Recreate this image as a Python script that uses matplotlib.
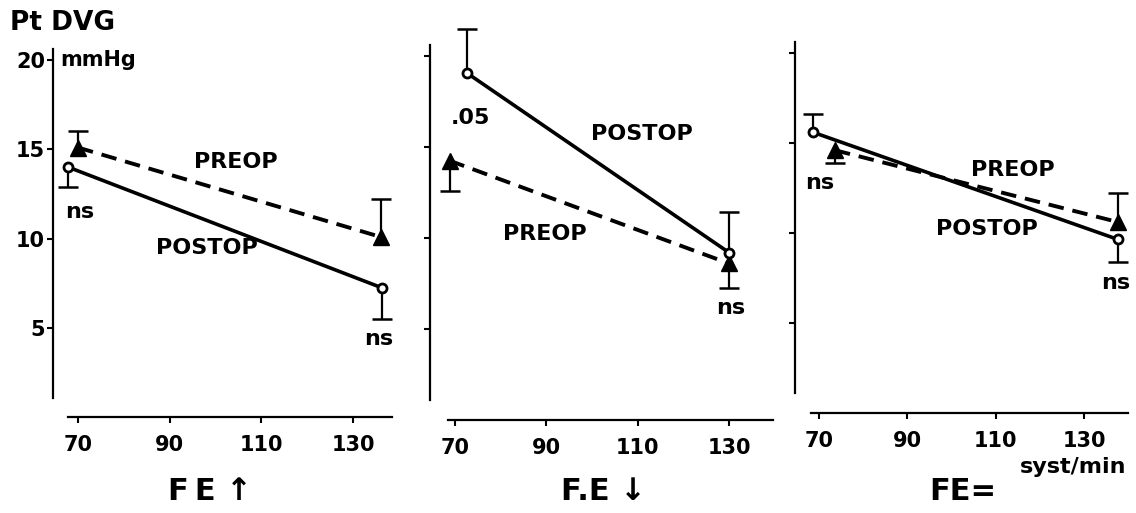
import matplotlib
matplotlib.use("Agg")
from matplotlib import pyplot as plt

# heart rate (syst/min) and Pt DVG (mmHg) per panel: FE up, FE down, FE equal
hr_pre = [[70, 136], [68.8, 130], [73.6, 137.8]]
pre = [[15.1, 10.1], [14.25, 8.6], [14.6, 10.6]]
pre_err = [[0.9, 2.1], [-1.65, -1.35], [-0.7, 1.6]]  # + up, - down

hr_post = [[67.9, 136.3], [72.7, 130], [68.6, 137.6]]
post = [[14.0, 7.25], [19.05, 9.2], [15.6, 9.65]]
post_err = [[-1.1, -1.75], [2.45, 2.25], [1.0, -1.25]]

panel_names = ['F\u2009E \u2191', 'F.E \u2193', 'FE=']
x_ticks = [70, 90, 110, 130]
y_ticks = [5, 10, 15, 20]

W, H = 1136, 513
XL = (64.6, 141)
YL = (0, 22.5)

# pixel calibration of each panel: x=70, x=130, y=20, y=5
calib = [(78, 353, 60, 328), (455, 729, 56, 329), (819, 1084, 53, 323)]
x_bounds = [(67.8, 138.5), (68.5, 139.6), (68.3, 140)]

fig = plt.figure(figsize=(W / 100, H / 100), dpi=100)


def box(px70, px130, py20, py5):
    sx = (px130 - px70) / 60
    sy = (py5 - py20) / 15
    left = px70 - (70 - XL[0]) * sx
    top = py20 - (YL[1] - 20) * sy
    w = (XL[1] - XL[0]) * sx
    h = (YL[1] - YL[0]) * sy
    return [left / W, 1 - (top + h) / H, w / W, h / H]


def err_bars(ax, xs, ys, es):
    for x, y, e in zip(xs, ys, es):
        ax.vlines(x, y, y + e, color='black', lw=1.6, zorder=2)
        ax.plot(x, y + e, marker='_', ms=15, mew=1.8, color='black', zorder=2)


axes = []
for i in range(3):
    ax = fig.add_axes(box(*calib[i]))
    ax.set_xlim(*XL)
    ax.set_ylim(*YL)
    for s in ['top', 'right']:
        ax.spines[s].set_visible(False)
    ax.spines['left'].set_linewidth(1.6)
    ax.spines['bottom'].set_linewidth(1.6)
    ax.spines['left'].set_bounds(1.1, 20.6)
    ax.spines['bottom'].set_bounds(*x_bounds[i])
    ax.set_xticks(x_ticks)
    ax.set_yticks(y_ticks)
    ax.tick_params(width=1.5, length=4, labelsize=15)
    ax.tick_params(axis='x', pad=9)
    ax.tick_params(axis='y', pad=2)
    for lab in ax.get_xticklabels() + ax.get_yticklabels():
        lab.set_fontweight('bold')
    if i > 0:
        ax.set_yticklabels([])
    ax.patch.set_visible(False)

    ax.plot(hr_pre[i], pre[i], color='black', lw=2.8, dashes=(4, 2.3), zorder=3)
    ax.plot(hr_post[i], post[i], color='black', lw=2.6, zorder=3)
    err_bars(ax, hr_pre[i], pre[i], pre_err[i])
    err_bars(ax, hr_post[i], post[i], post_err[i])
    ax.plot(hr_pre[i], pre[i], ls='none', marker='^', ms=11, color='black', zorder=4)
    ax.plot(hr_post[i], post[i], ls='none', marker='o', ms=6.5, mfc='white',
            mec='black', mew=2, zorder=5)
    axes.append(ax)

tk = dict(fontsize=16, fontweight='bold', ha='center', va='center')
a1, a2, a3 = axes
a1.text(104.5, 14.3, 'PREOP', **tk)
a1.text(98.1, 9.5, 'POSTOP', **tk)
a1.text(70.4, 11.5, 'ns', **tk)
a1.text(135.5, 4.4, 'ns', **tk)
a1.text(66.1, 20.0, 'mmHg', fontsize=15, fontweight='bold', ha='left', va='center')

a2.text(73.3, 16.6, '.05', **tk)
a2.text(110.9, 15.7, 'POSTOP', **tk)
a2.text(89.7, 10.2, 'PREOP', **tk)
a2.text(130.4, 6.15, 'ns', **tk)

a3.text(113.9, 13.5, 'PREOP', **tk)
a3.text(108, 10.2, 'POSTOP', **tk)
a3.text(70.2, 12.8, 'ns', **tk)
a3.text(137.2, 7.2, 'ns', **tk)
a3.text(127.5, -3.0, 'syst/min', fontsize=16, fontweight='bold', ha='center',
        va='center', clip_on=False)

fig.text(10 / W, 1 - 23 / H, 'Pt DVG', fontsize=19, fontweight='bold', va='center')
for name, cx in zip(panel_names, [210, 603, 963]):
    fig.text(cx / W, 1 - 492 / H, name, fontsize=22, fontweight='bold',
             ha='center', va='center')

fig.savefig('out.png', dpi=100)
